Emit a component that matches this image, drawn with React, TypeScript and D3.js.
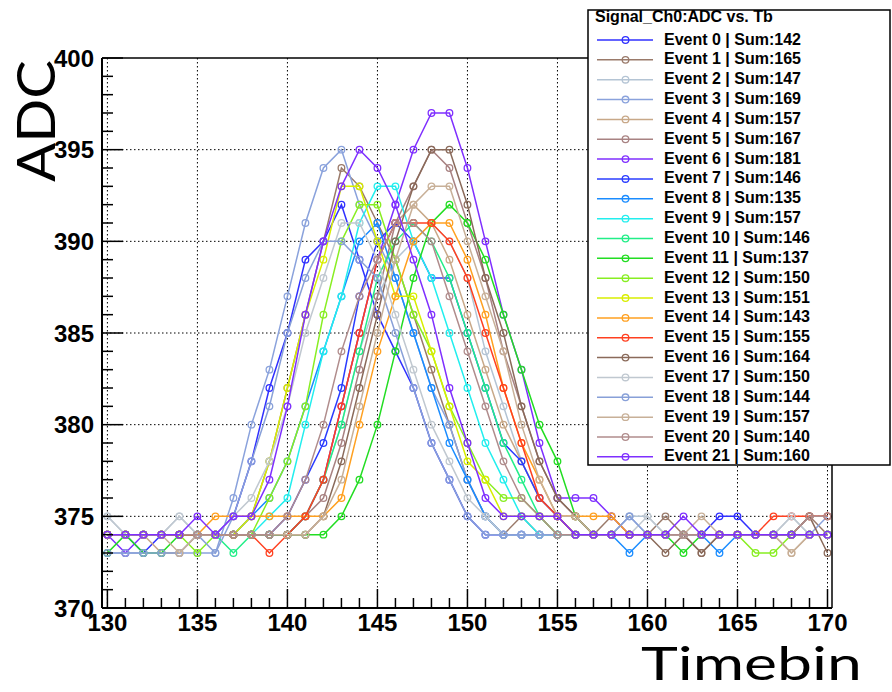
import React from "react";
import * as d3 from "d3";

const timebins: number[] = d3.range(130, 171);

const eventNames: string[] = [
  "Event 0 | Sum:142", "Event 1 | Sum:165", "Event 2 | Sum:147", "Event 3 | Sum:169",
  "Event 4 | Sum:157", "Event 5 | Sum:167", "Event 6 | Sum:181", "Event 7 | Sum:146",
  "Event 8 | Sum:135", "Event 9 | Sum:157", "Event 10 | Sum:146", "Event 11 | Sum:137",
  "Event 12 | Sum:150", "Event 13 | Sum:151", "Event 14 | Sum:143", "Event 15 | Sum:155",
  "Event 16 | Sum:164", "Event 17 | Sum:150", "Event 18 | Sum:144", "Event 19 | Sum:157",
  "Event 20 | Sum:140", "Event 21 | Sum:160",
];

const eventColors: string[] = [
  "#3030ff", "#9a7a6a", "#b4c4d4", "#8aa2dc", "#c8a888", "#a88282", "#7f2fff", "#2a3cff",
  "#1a8cff", "#22eeee", "#22ee88", "#22dd22", "#88ee22", "#d8ee00", "#ffa020", "#ff4020",
  "#8a6a5a", "#c0c8d0", "#88a0d8", "#c8b098", "#b08c8c", "#7f2fff",
];

const ev0 = [374,374,373,374,374,374,374,375,378,382, 385,389,390,392,389,386,384,382,379,377, 375,374,374,374,374,374,374,374,374,374, 374,374,374,374,375,375,374,374,374,374, 374];
const ev1 = [374,374,374,374,374,374,374,374,375,378, 382,386,390,394,393,391,389,386,383,380, 377,375,374,375,374,374,374,374,375,374, 374,375,374,373,374,374,374,374,374,375, 374];
const ev2 = [375,374,374,374,375,374,374,374,374,374, 374,375,377,380,384,387,389,390,391,390, 388,384,381,378,376,375,374,374,374,375, 375,374,374,374,374,374,374,374,375,374, 374];
const ev3 = [373,373,373,373,373,373,373,376,380,383, 387,391,394,395,392,390,388,385,382,380, 377,375,374,374,374,374,374,374,374,375, 374,374,374,374,374,374,374,374,374,374, 375];
const ev4 = [374,374,374,373,373,374,374,374,374,374, 374,375,377,381,385,389,391,392,391,389, 386,383,380,378,376,375,375,374,374,374, 374,374,374,374,374,374,374,374,373,374, 374];
const ev5 = [374,374,374,374,374,374,374,374,374,374, 374,375,376,379,383,387,391,393,395,394, 391,388,384,381,378,376,375,374,374,374, 374,374,374,374,374,374,374,374,374,375, 375];
const ev6 = [374,373,374,374,374,374,374,374,374,374, 374,375,377,381,385,389,392,395,397,397, 394,390,386,383,379,376,376,376,375,374, 374,374,374,374,374,374,374,374,374,374, 374];
const ev7 = [374,374,374,374,374,374,374,374,374,374, 375,377,379,382,387,390,391,390,388,388, 385,382,379,378,376,375,374,374,374,374, 374,374,374,374,374,374,374,374,374,374, 374];
const ev8 = [374,374,374,374,374,374,374,374,375,376, 378,381,384,387,390,391,388,385,382,379, 377,375,374,374,374,374,374,374,374,373, 374,374,374,374,373,374,374,374,374,374, 374];
const ev9 = [374,374,374,374,374,374,374,374,374,375, 376,380,384,387,391,393,393,390,388,385, 382,379,377,375,374,374,374,374,374,374, 374,374,374,374,374,374,374,374,374,374, 374];
const ev10 = [374,374,374,374,374,374,374,373,374,374, 374,375,377,380,384,388,390,391,390,388, 385,382,379,377,375,374,374,374,374,374, 374,374,374,374,374,374,374,374,374,374, 374];
const ev11 = [373,374,373,373,374,374,374,374,374,374, 374,374,374,375,377,380,384,388,391,392, 391,389,386,383,380,378,375,374,374,374, 374,374,373,374,374,374,374,374,374,374, 374];
const ev12 = [374,374,374,374,374,373,374,374,374,376, 378,381,386,390,392,392,389,386,384,381, 379,377,376,376,375,374,374,374,374,374, 374,374,374,374,374,374,373,373,374,374, 374];
const ev13 = [374,374,374,374,374,374,374,374,375,378, 382,386,389,393,393,390,387,387,384,381, 378,377,375,375,375,375,374,374,374,374, 374,374,374,374,374,374,374,374,374,374, 374];
const ev14 = [374,374,374,374,374,374,375,375,375,375, 375,375,375,376,380,384,387,390,391,391, 389,386,382,379,377,375,375,375,375,374, 374,374,374,374,374,374,374,374,374,374, 374];
const ev15 = [374,374,374,374,374,374,374,374,374,373, 374,375,377,381,385,389,391,391,391,390, 388,385,382,379,376,375,374,374,374,374, 374,374,374,374,374,374,374,375,375,375, 375];
const ev16 = [374,374,374,374,374,374,374,374,374,374, 374,374,375,378,382,386,390,393,395,395, 392,388,385,381,378,376,375,374,374,374, 374,373,374,373,374,374,374,374,374,375, 373];
const ev17 = [375,374,374,374,375,374,374,375,376,378, 381,385,388,391,391,389,386,383,380,378, 376,375,374,374,374,374,374,374,374,374, 375,374,374,374,374,374,374,374,375,374, 374];
const ev18 = [373,373,373,373,373,374,373,375,378,381, 385,388,390,390,389,388,385,382,379,377, 375,374,374,374,374,374,374,374,374,375, 374,374,374,374,374,374,374,374,374,374, 374];
const ev19 = [374,374,374,374,373,374,374,374,374,374, 374,374,375,377,381,385,389,392,393,393, 390,387,384,380,377,375,375,374,374,374, 374,374,374,375,374,374,374,374,373,374, 374];
const ev20 = [374,374,374,374,374,374,374,374,374,374, 375,377,380,384,387,389,391,391,390,387, 384,381,378,376,375,374,374,374,374,374, 374,374,374,374,374,374,374,374,374,375, 375];
const ev21 = [374,374,374,374,374,375,374,375,375,377, 381,386,390,393,395,394,392,389,386,382, 379,376,375,375,375,375,374,374,374,374, 374,374,375,374,374,374,374,374,374,374, 374];

const eventValues: number[][] = [
  ev0, ev1, ev2, ev3, ev4, ev5, ev6, ev7, ev8, ev9, ev10,
  ev11, ev12, ev13, ev14, ev15, ev16, ev17, ev18, ev19, ev20, ev21,
];

const xTicks: number[] = [130, 135, 140, 145, 150, 155, 160, 165, 170];
const yTicks: number[] = [370, 375, 380, 385, 390, 395, 400];
const legendTitle = "Signal_Ch0:ADC vs. Tb";

export default function App() {
  const W = 892, H = 692;
  const x = d3.scaleLinear().domain([129.7, 170.25]).range([102, 832]);
  const y = d3.scaleLinear().domain([370, 400]).range([608, 58]);
  const line = d3.line<[number, number]>().x(d => x(d[0])).y(d => y(d[1]));
  const tickFont = "'Liberation Sans', Arial, Helvetica, sans-serif";
  const minorX = d3.range(130, 171);
  const minorY = d3.range(370, 401);

  return (
    <svg width={W} height={H} style={{ position: "absolute", left: 0, top: 0, background: "#fff" }}>
      <rect x={0} y={0} width={W} height={H} fill="#fff" />
      {/* grid */}
      {xTicks.map(t => (
        <line key={"gx" + t} x1={x(t)} x2={x(t)} y1={58} y2={608} stroke="#000" strokeWidth={1} strokeDasharray="1.5,2.5" />
      ))}
      {yTicks.filter(t => t > 370 && t < 400).map(t => (
        <line key={"gy" + t} x1={102} x2={832} y1={y(t)} y2={y(t)} stroke="#000" strokeWidth={1} strokeDasharray="1.5,2.5" />
      ))}
      {/* series */}
      {eventValues.map((vals, i) => {
        const pts: [number, number][] = vals.map((v, j) => [timebins[j], v]);
        return (
          <g key={"s" + i}>
            <path d={line(pts) || ""} fill="none" stroke={eventColors[i]} strokeWidth={1.5} />
            {pts.map((p, j) => (
              <circle key={j} cx={x(p[0])} cy={y(p[1])} r={3.3} fill="none" stroke={eventColors[i]} strokeWidth={1.3} />
            ))}
          </g>
        );
      })}
      {/* frame */}
      <line x1={102} x2={832} y1={58} y2={58} stroke="#000" strokeWidth={1.5} />
      <line x1={832} x2={832} y1={58} y2={608} stroke="#000" strokeWidth={1.5} />
      <line x1={102} x2={832} y1={608} y2={608} stroke="#000" strokeWidth={2} />
      <line x1={102} x2={102} y1={58} y2={608} stroke="#000" strokeWidth={2} />
      {/* x ticks */}
      {minorX.map(t => (
        <line key={"tx" + t} x1={x(t)} x2={x(t)} y1={608} y2={608 - (t % 5 === 0 ? 19 : 10)} stroke="#000" strokeWidth={1.5} />
      ))}
      {minorY.map(t => (
        <line key={"ty" + t} x1={102} x2={102 + (t % 5 === 0 ? 21 : 11)} y1={y(t)} y2={y(t)} stroke="#000" strokeWidth={1.5} />
      ))}
      {xTicks.map(t => (
        <text key={"lx" + t} x={x(t)} y={631} textAnchor="middle" fontFamily={tickFont} fontWeight="bold" fontSize={24} fill="#000">{t}</text>
      ))}
      {yTicks.map(t => (
        <text key={"ly" + t} x={94} y={y(t) + 8.5} textAnchor="end" fontFamily={tickFont} fontWeight="bold" fontSize={24} fill="#000">{t}</text>
      ))}
      {/* axis titles */}
      <text transform="translate(55,121) rotate(-90)" textAnchor="middle" fontFamily="Lato, 'Open Sans', sans-serif" fontSize={53} textLength={122} lengthAdjust="spacingAndGlyphs" fill="#000">ADC</text>
      <text x={641} y={680} fontFamily="Lato, 'Open Sans', sans-serif" fontSize={46} textLength={221} lengthAdjust="spacingAndGlyphs" fill="#000">Timebin</text>
      {/* legend */}
      <rect x={588} y={10} width={302} height={455} fill="#fff" stroke="#000" strokeWidth={1.5} />
      <text x={595} y={22} fontFamily={tickFont} fontWeight="bold" fontSize={16} fill="#000">{legendTitle}</text>
      {eventNames.map((name, i) => {
        const ly = 40 + i * 19.85;
        return (
          <g key={"lg" + i}>
            <line x1={597} x2={653} y1={ly} y2={ly} stroke={eventColors[i]} strokeWidth={1.5} />
            <circle cx={625.5} cy={ly} r={3.3} fill="none" stroke={eventColors[i]} strokeWidth={1.3} />
            <text x={664} y={ly + 4.5} fontFamily={tickFont} fontWeight="bold" fontSize={16} fill="#000">{name}</text>
          </g>
        );
      })}
    </svg>
  );
}
